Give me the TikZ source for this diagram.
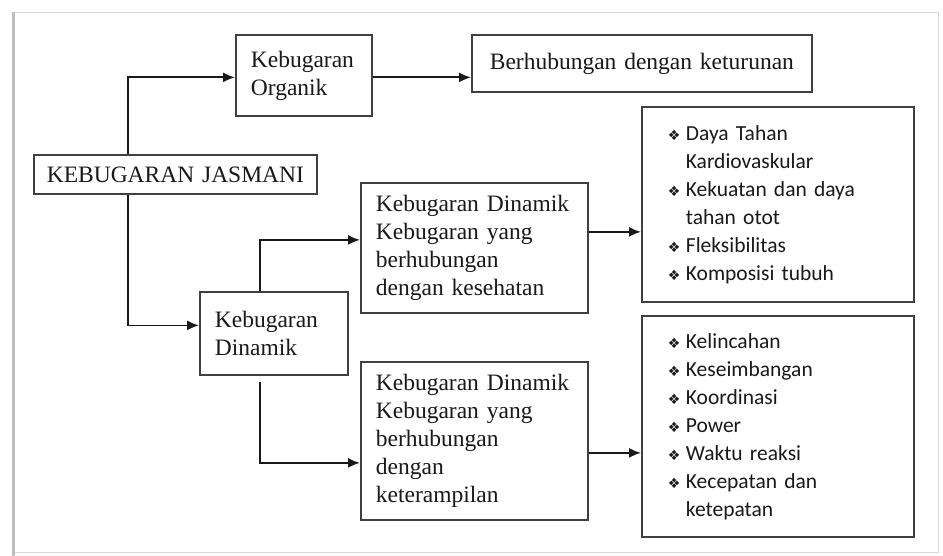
\documentclass[tikz,border=0pt]{standalone}
\usepackage{fontspec}
\setmainfont{Liberation Serif}
\newfontfamily\daftar{Carlito}
\newfontfamily\simbol{DejaVu Sans}
\usetikzlibrary{arrows.meta}

\newcommand{\itm}[1]{\makebox[18pt][l]{\simbol\fontsize{14}{14}\selectfont ❖}#1}
\newcommand{\lanj}[1]{\hspace*{18pt}#1}

\tikzset{
    kotak/.style={draw=black!75, line width=1.8pt, anchor=north west, align=left,
        inner xsep=15pt, inner ysep=2pt, text=black!90,
        font=\fontsize{23.5}{28}\selectfont},
    daftarkotak/.style={kotak, inner xsep=26pt, text width=220pt,
        font=\daftar\fontsize{21.5}{28}\selectfont},
    panah/.style={draw=black!90, line width=1.8pt, -{Latex[length=12pt,width=10pt]}}
}

\begin{document}
\begin{tikzpicture}[x=1pt,y=-1pt]
    \useasboundingbox (0,0) rectangle (943,556);
    %% frame
    \draw[black!15, line width=0.8pt] (14,12) rectangle (938,552);
    \draw[black!25, line width=3pt] (13,12) -- (13,556);
    %% boxes
    \node[kotak, align=center, inner xsep=12pt, text width=259pt, minimum height=39pt] (jas) at (33,154) {KEBUGARAN JASMANI};
    \node[kotak, text width=106pt, minimum height=81pt] (org) at (235,34) {Kebugaran\\Organik};
    \node[kotak, align=center, inner xsep=17pt, text width=306pt, minimum height=57pt] (ket) at (471,34) {Berhubungan dengan keturunan};
    \node[kotak, text width=118pt, minimum height=83pt] (din) at (199,291) {Kebugaran\\Dinamik};
    \node[kotak, text width=197pt, minimum height=130pt] (kes) at (360,182) {Kebugaran Dinamik\\Kebugaran yang\\berhubungan\\dengan kesehatan};
    \node[kotak, text width=197pt, minimum height=158pt] (ter) at (360,361) {Kebugaran Dinamik\\Kebugaran yang\\berhubungan\\dengan\\keterampilan};
    \node[daftarkotak, minimum height=195pt] (sehat) at (641,106) {\itm{Daya Tahan}\\\lanj{Kardiovaskular}\\\itm{Kekuatan dan daya}\\\lanj{tahan otot}\\\itm{Fleksibilitas}\\\itm{Komposisi tubuh}};
    \node[daftarkotak, minimum height=221pt] (trampil) at (641,315) {\itm{Kelincahan}\\\itm{Keseimbangan}\\\itm{Koordinasi}\\\itm{Power}\\\itm{Waktu reaksi}\\\itm{Kecepatan dan}\\\lanj{ketepatan}};
    %% arrows
    \draw[panah] ([xshift=95pt]jas.north west) |- ([yshift=-2pt]org.west);
    \draw[panah] ([xshift=95pt]jas.south west) |- ([yshift=8pt]din.west);
    \draw[panah] ([yshift=-2pt]org.east) -- ([yshift=-2pt]org.east -| ket.west);
    \draw[panah] ([xshift=61pt]din.north west) |- ([yshift=8pt]kes.west);
    \draw[panah] ([xshift=61pt,yshift=-6pt]din.south west) |- ([yshift=-22pt]ter.west);
    \draw[panah] ([yshift=16pt]kes.east) -- ([yshift=16pt]kes.east -| sehat.west);
    \draw[panah] ([yshift=-12pt]ter.east) -- ([yshift=-12pt]ter.east -| trampil.west);
\end{tikzpicture}
\end{document}
